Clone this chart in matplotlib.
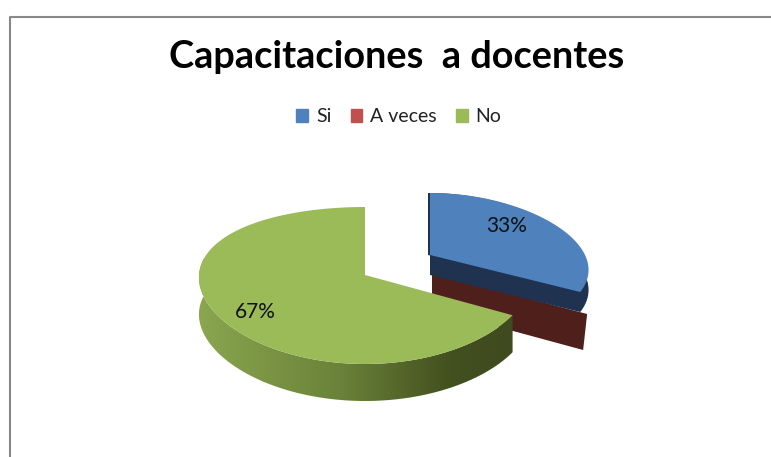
import numpy as np
import matplotlib
matplotlib.use('Agg')
import matplotlib.pyplot as plt
from matplotlib.patches import Polygon, Patch

categories = ['Si', 'A veces', 'No']
shares = [33, 0, 67]
labels = ['33%', '', '67%']
top_colors = ['#4f81bd', '#c0504d', '#9bbb59']
side_colors = ['#1f3350', '#4f1f1c', '#3f4a1f']

plt.rcParams['font.family'] = ['Lato', 'DejaVu Sans']

fig = plt.figure(figsize=(7.71, 4.57), dpi=100)
ax = fig.add_axes([0, 0, 1, 1])
ax.set_xlim(0, 771)
ax.set_ylim(457, 0)
ax.axis('off')


# fake 3D: unit circle goes to a squashed ellipse, near side is a bit bigger
def rim(angles, cx, cy, sx, persp, sy, bulge):
    a = np.radians(angles)
    u, v = np.sin(a), np.cos(a)
    return cx + u * sx * (1 - persp * v), cy - sy * v + bulge * v ** 2


def slice_outline(start, end, cx, cy, sx, persp, sy, bulge):
    angles = np.linspace(start, end, 120)
    x, y = rim(angles, cx, cy, sx, persp, sy, bulge)
    return np.r_[cx, x], np.r_[cy, y]


# angles clockwise from 12 o'clock, taken from the shares
total = sum(shares)
stops = np.cumsum([0] + shares) / total * 360

blue = (430, 255, 155, 0.22, 72, 10)
red = (432, 273, 158, 0.22, 72, 10)
green = (365, 275, 166, 0.03, 78.5, 10.5)
blue_depth = 20
red_depth = 36
green_depth = 37

# red slice has 0% so only its cut wall shows
x, y = rim(np.array([stops[2]]), *red)
wall_x = [red[0], x[0] + 2, x[0] - 2, red[0]]
wall_y = [red[1], y[0] + 4, y[0] + red_depth + 4, red[1] + red_depth]
ax.add_patch(Polygon(np.c_[wall_x, wall_y], color=side_colors[1], lw=0, zorder=1))

# blue slice, side then top
x, y = slice_outline(stops[0], stops[1], *blue)
ax.add_patch(Polygon(np.c_[x, y + blue_depth], color=side_colors[0], lw=0, zorder=2))
ax.add_patch(Polygon(np.c_[x - 2, y], color=side_colors[0], lw=0, zorder=2))
ax.add_patch(Polygon(np.c_[x, y], color=top_colors[0], lw=0, zorder=3))

# green slice, side wall has a gradient
x, y = slice_outline(stops[2], stops[3], *green)
angles = np.linspace(stops[2], stops[3], 120)
keep = angles <= 285
sx_, sy_ = x[1:][keep], y[1:][keep]
side = Polygon(np.r_[np.c_[sx_, sy_], np.c_[sx_, sy_ + green_depth][::-1]], color='none', lw=0)
ax.add_patch(side)
grad = np.linspace(0, 1, 256).reshape(1, -1)
cmap = matplotlib.colors.LinearSegmentedColormap.from_list(
    'side', [(0, '#8aa64f'), (0.45, '#6a8239'), (0.8, '#43501f'), (1, '#3f4a1f')])
img = ax.imshow(grad, cmap=cmap, extent=[sx_.min(), sx_.max(), 420, 250],
                aspect='auto', zorder=4)
img.set_clip_path(side)
ax.set_xlim(0, 771)
ax.set_ylim(457, 0)
ax.add_patch(Polygon(np.c_[x, y], color=top_colors[2], lw=0, zorder=5))

# percent labels
ax.text(507, 226, labels[0], fontsize=15, ha='center', va='center', color='#111111', zorder=6)
ax.text(255, 312, labels[2], fontsize=15, ha='center', va='center', color='#111111', zorder=6)

ax.text(397, 57, 'Capacitaciones  a docentes', fontsize=27.3, fontweight='bold',
        ha='center', va='center', color='black')

handles = [Patch(color=c, label=n) for c, n in zip(top_colors, categories)]
ax.legend(handles=handles, ncol=3, loc='center', bbox_to_anchor=(399 / 771, 1 - 117 / 457),
          frameon=False, fontsize=14, handlelength=0.6, handleheight=0.6,
          handletextpad=0.4, columnspacing=1.0, labelcolor='#222222')

# chart border, runs off the picture
ax.plot([10, 10, 771], [457, 17, 17], color='#888888', lw=1.5, clip_on=False)

fig.savefig('out.png', dpi=100)
